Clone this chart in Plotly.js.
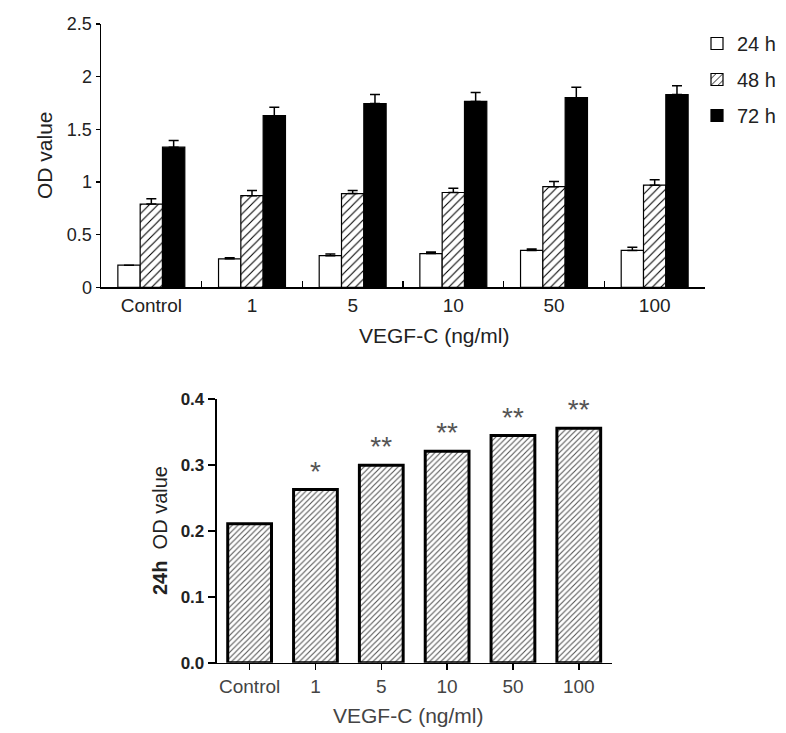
<!DOCTYPE html>
<html>
<head>
<meta charset="utf-8">
<script src="https://cdn.plot.ly/plotly-3.0.1.min.js"></script>
<style>html,body{margin:0;padding:0;background:#fff;}#chart{width:786px;height:733px;}</style>
</head>
<body>
<div id="chart"></div>
<script>
// ---- data ----
const categories = ["Control", "1", "5", "10", "50", "100"];
const seriesNames = ["24 h", "48 h", "72 h"];
const od24 = [0.21, 0.27, 0.30, 0.32, 0.35, 0.35];
const od24Err = [0.0, 0.01, 0.015, 0.015, 0.013, 0.03];
const od48 = [0.79, 0.87, 0.89, 0.90, 0.955, 0.97];
const od48Err = [0.05, 0.05, 0.03, 0.04, 0.05, 0.05];
const od72 = [1.33, 1.63, 1.745, 1.765, 1.80, 1.83];
const od72Err = [0.065, 0.08, 0.085, 0.085, 0.10, 0.083];
const od24Detail = [0.211, 0.263, 0.300, 0.321, 0.345, 0.356];
const significance = ["", "*", "**", "**", "**", "**"];
const yTicksTop = [0, 0.5, 1, 1.5, 2, 2.5];
const yTicksBottom = [0, 0.1, 0.2, 0.3, 0.4];

const W = 786, H = 733;
const px = v => v / W;
const py = v => 1 - v / H;
const FONT = "Liberation Sans, Arial, sans-serif";

function errBar(arr) {
  return {type: "data", array: arr, arrayminus: arr.map(() => 0), symmetric: false,
          visible: true, color: "#000", thickness: 1.5, width: 5};
}

const traces = [
  {type: "bar", name: seriesNames[0], x: categories, y: od24, xaxis: "x", yaxis: "y",
   legendgroup: "a",
   marker: {color: "#fff", line: {color: "#000", width: 1.2}},
   error_y: errBar(od24Err)},
  {type: "bar", name: seriesNames[1], x: categories, y: od48, xaxis: "x", yaxis: "y",
   legendgroup: "b",
   marker: {color: "#fff", line: {color: "#000", width: 1.2},
            pattern: {shape: "/", fgcolor: "#000", bgcolor: "#fff", size: 6, solidity: 0.18}},
   error_y: errBar(od48Err)},
  {type: "bar", name: seriesNames[2], x: categories, y: od72, xaxis: "x", yaxis: "y",
   legendgroup: "c",
   marker: {color: "#000", line: {color: "#000", width: 1.2}},
   error_y: errBar(od72Err)},
  {type: "bar", name: "24h detail", x: categories, y: od24Detail, xaxis: "x2", yaxis: "y2",
   showlegend: false,
   text: significance, textposition: "outside", cliponaxis: false,
   textfont: {family: FONT, size: 28, color: "#555"},
   marker: {color: "#fff", line: {color: "#000", width: 3},
            pattern: {shape: "/", fgcolor: "#555", bgcolor: "#fff", size: 4, solidity: 0.28}}}
];

const layout = {
  width: W, height: H,
  margin: {l: 0, r: 0, t: 0, b: 0},
  paper_bgcolor: "#fff", plot_bgcolor: "rgba(0,0,0,0)",
  font: {family: FONT, color: "#222"},
  barmode: "group",
  bargap: 0.335, bargroupgap: 0,
  showlegend: true,
  legend: {x: px(697), y: py(24), xanchor: "left", yanchor: "top",
           font: {family: FONT, size: 20, color: "#222"},
           tracegroupgap: 7, traceorder: "grouped", bgcolor: "rgba(0,0,0,0)"},
  xaxis: {domain: [px(101), px(705)], anchor: "y", type: "category", range: [-0.5, 5.5],
          showline: true, linecolor: "#000", linewidth: 1.5, showgrid: false, zeroline: false,
          ticks: "inside", ticklen: 6, tickwidth: 1.5, tickcolor: "#000", tickson: "boundaries",
          tickfont: {family: FONT, size: 19, color: "#222"}, fixedrange: true},
  yaxis: {domain: [py(287.3), py(24)], anchor: "x", range: [0, 2.5], tickvals: yTicksTop,
          showline: true, linecolor: "#000", linewidth: 1.5, showgrid: false, zeroline: false,
          ticks: "outside", ticklen: 4, tickwidth: 1.5, tickcolor: "#000",
          tickfont: {family: FONT, size: 18, color: "#222"}},
  xaxis2: {domain: [px(216.7), px(611.7)], anchor: "y2", type: "category", range: [-0.5, 5.5],
           showline: true, linecolor: "#000", linewidth: 1.5, showgrid: false, zeroline: false,
           ticks: "outside", ticklen: 6, tickwidth: 1.5, tickcolor: "#000",
           tickfont: {family: FONT, size: 19, color: "#444"}},
  yaxis2: {domain: [py(662.7), py(399.3)], anchor: "x2", range: [0, 0.4], tickvals: yTicksBottom,
           tickformat: ".1f",
           showline: true, linecolor: "#000", linewidth: 2, showgrid: false, zeroline: false,
           ticks: "outside", ticklen: 7, tickwidth: 2, tickcolor: "#000",
           tickfont: {family: FONT, size: 17, color: "#222", weight: "bold"}},
  annotations: [
    {text: "OD value", xref: "paper", yref: "paper", x: px(44), y: py(155),
     xanchor: "center", yanchor: "middle",
     textangle: -90, showarrow: false, font: {family: FONT, size: 21, color: "#222"}},
    {text: "VEGF-C (ng/ml)", xref: "paper", yref: "paper", x: px(434), y: py(335),
     xanchor: "center", yanchor: "middle",
     showarrow: false, font: {family: FONT, size: 21, color: "#222"}},
    {text: "<b>24h</b>  OD value", xref: "paper", yref: "paper", x: px(160), y: py(531),
     xanchor: "center", yanchor: "middle",
     textangle: -90, showarrow: false, font: {family: FONT, size: 20, color: "#222"}},
    {text: "VEGF-C (ng/ml)", xref: "paper", yref: "paper", x: px(409), y: py(715),
     xanchor: "center", yanchor: "middle",
     showarrow: false, font: {family: FONT, size: 21, color: "#444"}}
  ]
};

Plotly.newPlot("chart", traces, layout, {displayModeBar: false, staticPlot: true});
</script>
</body>
</html>
